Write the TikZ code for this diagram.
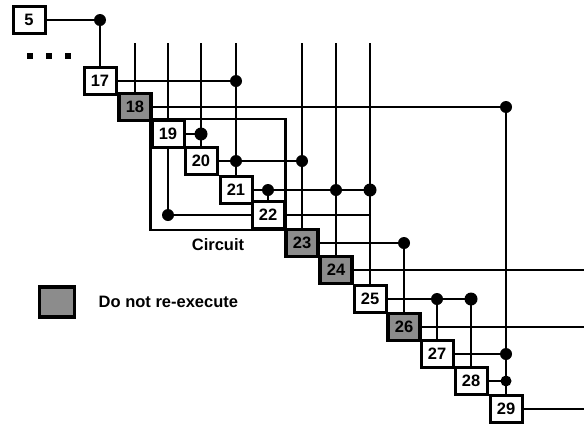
\documentclass[tikz,border=0pt]{standalone}
\usepackage{fontspec}
\setsansfont{Liberation Sans}
\usetikzlibrary{positioning,fit}
\begin{document}
\begin{tikzpicture}[x=1pt, y=-1pt]
    \tikzstyle{every node} = [align=center, font=\sffamily\bfseries\fontsize{16.5}{16.5}\selectfont]
    \tikzstyle{task} = [draw, line width=3pt, fill=white, minimum width=32pt, minimum height=27pt, inner sep=0pt]
    \tikzstyle{skipped} = [task, fill=black!45, line width=3.4pt]
    \tikzstyle{wire} = [line width=2.8pt]
    \useasboundingbox (0,0) rectangle (584,426);
    \coordinate (top) at (0,43);
    \coordinate (edge) at (584,0);
    % tasks along the diagonal
    \node [task] (b5) at (29,20) {5};
    \node [task] (b17) at (100,81) {17};
    \node [skipped] (b18) at (135,107) {18};
    \node [task] (b19) at (168,134) {19};
    \node [task] (b20) at (201,161) {20};
    \node [task] (b21) at (236,190) {21};
    \node [task] (b22) at (268,215) {22};
    \node [skipped] (b23) at (302,243) {23};
    \node [skipped] (b24) at (336,270) {24};
    \node [task] (b25) at (370,299) {25};
    \node [skipped] (b26) at (404,327) {26};
    \node [task] (b27) at (437,354) {27};
    \node [task] (b28) at (471,381) {28};
    \node [task] (b29) at (506,409) {29};
    \fill (27,53) rectangle ++(6,6);
    \fill (46,53) rectangle ++(6,6);
    \fill (65,53) rectangle ++(6,6);
    % the circuit
    \node [draw, line width=2.8pt, inner sep=0pt, fit=(b19)(b22)] (circuit) {};
    \node [below=4pt of circuit] (circuitlabel) {Circuit};
    % inputs from above
    \draw [wire] (b18 |- top) -- (b18);
    \draw [wire] (b19 |- top) -- (b19);
    \draw [wire] (b20 |- top) -- (b20);
    \draw [wire] (b21 |- top) -- (b21);
    \draw [wire] (b23 |- top) -- (b23);
    \draw [wire] (b24 |- top) -- (b24);
    \draw [wire] (b25 |- top) -- (b25);
    % outputs
    \draw [wire] (b5) -- (b17 |- b5) -- (b17);
    \draw [wire] (b17) -- (b21 |- b17);
    \draw [wire] (b18) -- (b29 |- b18) -- (b29);
    \draw [wire] (b19) -- (b20 |- b19);
    \draw [wire] (b20) -- (b23 |- b20);
    \draw [wire] (b21) -- (b25 |- b21);
    \draw [wire] (b22 |- b21) -- (b22);
    \draw [wire] (b22) -- (b25 |- b22);
    \draw [wire] (b22) -- (b19 |- b22) -- (b19);
    \draw [wire] (b23) -- (b26 |- b23) -- (b26);
    \draw [wire] (b24) -- (b24 -| edge);
    \draw [wire] (b25) -- (b28 |- b25);
    \draw [wire] (b27 |- b25) -- (b27);
    \draw [wire] (b28 |- b25) -- (b28);
    \draw [wire] (b26) -- (b26 -| edge);
    \draw [wire] (b27) -- (b29 |- b27);
    \draw [wire] (b28) -- (b29 |- b28);
    \draw [wire] (b29) -- (b29 -| edge);
    % joints
    \fill (b17 |- b5) circle (6);
    \fill (b21 |- b17) circle (6);
    \fill (b29 |- b18) circle (6);
    \fill (b20 |- b19) circle (6.5);
    \fill (b21 |- b20) circle (6);
    \fill (b23 |- b20) circle (6);
    \fill (b22 |- b21) circle (6);
    \fill (b24 |- b21) circle (6);
    \fill (b25 |- b21) circle (6.5);
    \fill (b19 |- b22) circle (6);
    \fill (b26 |- b23) circle (6);
    \fill (b27 |- b25) circle (6);
    \fill (b28 |- b25) circle (6.5);
    \fill (b29 |- b27) circle (6);
    \fill (b29 |- b28) circle (5.5);
    % key
    \node [skipped, minimum width=35pt, minimum height=30pt] (key) at (57,302) {};
    \node [right=19pt of key] (keytext) {Do not re-execute};
\end{tikzpicture}
\end{document}
